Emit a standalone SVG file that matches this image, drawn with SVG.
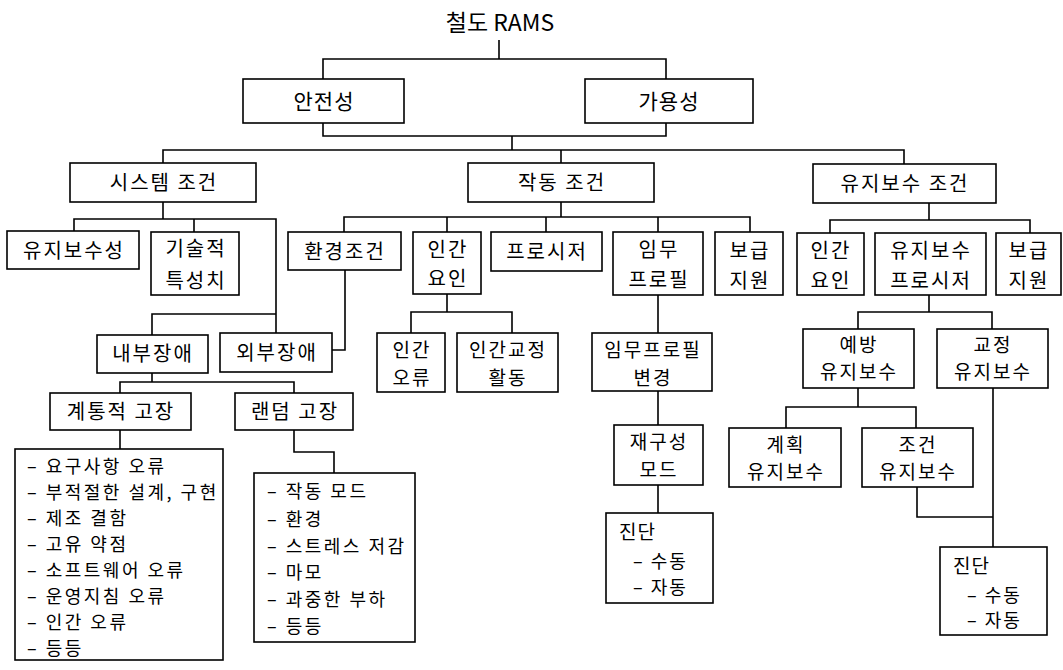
<svg xmlns="http://www.w3.org/2000/svg" width="1063" height="670" viewBox="0 0 1063 670">
<style>
.bx{fill:#fff;stroke:#000;stroke-width:1.6}
.ln{fill:none;stroke:#000;stroke-width:1.6}
text{font-family:"Noto Sans CJK KR","Noto Sans",sans-serif;fill:#000}
.t{font-size:20px;letter-spacing:2px;text-anchor:middle}
.t2{font-size:19px;letter-spacing:2px;text-anchor:middle}
.l{font-size:18px;letter-spacing:2.5px}
.d{font-size:18px;letter-spacing:2px}
</style>
<rect width="1063" height="670" fill="#fff"/>
<g id="connectors">
<path class="ln" d="M499,40V59M323,79V59H666V79M323,123V136H666V123M512,136V150"/>
<path class="ln" d="M163,163V150H904V164M561,150V163"/>
<path class="ln" d="M163,202V219M74,231V219H276V333M194,219V232M276,314H152V335"/>
<path class="ln" d="M152,373V382M120,393V382H294V393M120,430V449M294,430V452H334V473"/>
<path class="ln" d="M561,202V217M344,232V217H750V232M447,217V232M546,217V232M658,217V232"/>
<path class="ln" d="M345,270V350H332"/>
<path class="ln" d="M447,294V312M411,333V312H512V333"/>
<path class="ln" d="M658,295V333M658,391V425M658,485V513"/>
<path class="ln" d="M929,203V220M830,233V220H1030V233M929,295V312M858,329V312H992V329"/>
<path class="ln" d="M858,388V407M786,428V407H916V428M993,388V547M917,487V517H993"/>
</g>
<g id="title"><text x="500" y="31" font-size="23" text-anchor="middle">철도 RAMS</text></g>
<g id="n-safety"><rect class="bx" x="243" y="79" width="161" height="44"/><text class="t" x="324" y="109" style="font-size:21px;letter-spacing:1px">안전성</text></g>
<g id="n-avail"><rect class="bx" x="585" y="79" width="168" height="44"/><text class="t" x="669" y="109" style="font-size:21px;letter-spacing:1px">가용성</text></g>
<g id="n-sys"><rect class="bx" x="70" y="163" width="186" height="39"/><text class="t" x="164" y="190">시스템 조건</text></g>
<g id="n-op"><rect class="bx" x="468" y="163" width="186" height="39"/><text class="t" x="562" y="190">작동 조건</text></g>
<g id="n-mt"><rect class="bx" x="813" y="164" width="183" height="39"/><text class="t" x="905" y="191">유지보수 조건</text></g>
<g id="n-maint"><rect class="bx" x="7" y="231" width="132" height="38"/><text class="t" x="74" y="258">유지보수성</text></g>
<g id="n-tech"><rect class="bx" x="151" y="232" width="88" height="63"/><text class="t" x="196" y="256">기술적</text><text class="t" x="196" y="288">특성치</text></g>
<g id="n-env"><rect class="bx" x="288" y="232" width="113" height="38"/><text class="t" x="345" y="259">환경조건</text></g>
<g id="n-hf1"><rect class="bx" x="413" y="232" width="68" height="62"/><text class="t" x="448" y="257">인간</text><text class="t" x="448" y="286">요인</text></g>
<g id="n-proc"><rect class="bx" x="491" y="232" width="111" height="39"/><text class="t" x="547" y="259">프로시저</text></g>
<g id="n-mission"><rect class="bx" x="613" y="232" width="90" height="63"/><text class="t" x="659" y="257">임무</text><text class="t" x="659" y="287">프로필</text></g>
<g id="n-sup1"><rect class="bx" x="715" y="232" width="68" height="63"/><text class="t" x="750" y="258">보급</text><text class="t" x="750" y="288">지원</text></g>
<g id="n-hf2"><rect class="bx" x="797" y="233" width="67" height="62"/><text class="t" x="831" y="258">인간</text><text class="t" x="831" y="288">요인</text></g>
<g id="n-mproc"><rect class="bx" x="875" y="233" width="111" height="62"/><text class="t" x="931" y="258">유지보수</text><text class="t" x="931" y="288">프로시저</text></g>
<g id="n-sup2"><rect class="bx" x="996" y="233" width="65" height="62"/><text class="t" x="1029" y="258">보급</text><text class="t" x="1029" y="288">지원</text></g>
<g id="n-int"><rect class="bx" x="97" y="335" width="111" height="38"/><text class="t" x="153" y="361">내부장애</text></g>
<g id="n-ext"><rect class="bx" x="220" y="333" width="112" height="39"/><text class="t" x="277" y="360">외부장애</text></g>
<g id="n-sysf"><rect class="bx" x="50" y="393" width="141" height="37"/><text class="t" x="121" y="419">계통적 고장</text></g>
<g id="n-rndf"><rect class="bx" x="235" y="393" width="118" height="37"/><text class="t" x="295" y="419">랜덤 고장</text></g>
<g id="n-herr"><rect class="bx" x="377" y="333" width="68" height="59"/><text class="t2" x="412" y="357">인간</text><text class="t2" x="412" y="385">오류</text></g>
<g id="n-hcorr"><rect class="bx" x="457" y="333" width="101" height="59"/><text class="t2" x="508" y="357">인간교정</text><text class="t2" x="508" y="385">활동</text></g>
<g id="n-mchg"><rect class="bx" x="592" y="333" width="120" height="58"/><text class="t2" x="653" y="357">임무프로필</text><text class="t2" x="653" y="385">변경</text></g>
<g id="n-reconf"><rect class="bx" x="614" y="425" width="89" height="60"/><text class="t2" x="659" y="449">재구성</text><text class="t2" x="659" y="477">모드</text></g>
<g id="n-diag1"><rect class="bx" x="606" y="513" width="107" height="90"/><text x="619" y="539" style="font-size:19px;letter-spacing:1px">진단</text><text class="d" x="633" y="568">– 수동</text><text class="d" x="633" y="594">– 자동</text></g>
<g id="n-prev"><rect class="bx" x="803" y="329" width="111" height="59"/><text class="t2" x="859" y="352">예방</text><text class="t2" x="859" y="379">유지보수</text></g>
<g id="n-corr"><rect class="bx" x="937" y="329" width="111" height="59"/><text class="t2" x="993" y="352">교정</text><text class="t2" x="993" y="379">유지보수</text></g>
<g id="n-plan"><rect class="bx" x="729" y="428" width="112" height="59"/><text class="t2" x="786" y="452">계획</text><text class="t2" x="786" y="479">유지보수</text></g>
<g id="n-cond"><rect class="bx" x="862" y="428" width="111" height="59"/><text class="t2" x="918" y="452">조건</text><text class="t2" x="918" y="479">유지보수</text></g>
<g id="n-diag2"><rect class="bx" x="940" y="547" width="107" height="88"/><text x="953" y="573" style="font-size:19px;letter-spacing:1px">진단</text><text class="d" x="967" y="602">– 수동</text><text class="d" x="967" y="627">– 자동</text></g>
<g id="n-list1"><rect class="bx" x="15" y="449" width="208" height="211"/>
<text class="l" x="27" y="473">– 요구사항 오류</text>
<text class="l" x="27" y="499">– 부적절한 설계, 구현</text>
<text class="l" x="27" y="525">– 제조 결함</text>
<text class="l" x="27" y="551">– 고유 약점</text>
<text class="l" x="27" y="577">– 소프트웨어 오류</text>
<text class="l" x="27" y="603">– 운영지침 오류</text>
<text class="l" x="27" y="629">– 인간 오류</text>
<text class="l" x="27" y="655">– 등등</text>
</g>
<g id="n-list2"><rect class="bx" x="254" y="473" width="161" height="169"/>
<text class="l" x="267" y="498">– 작동 모드</text>
<text class="l" x="267" y="526">– 환경</text>
<text class="l" x="267" y="553">– 스트레스 저감</text>
<text class="l" x="267" y="579">– 마모</text>
<text class="l" x="267" y="606">– 과중한 부하</text>
<text class="l" x="267" y="633">– 등등</text>
</g>
</svg>
